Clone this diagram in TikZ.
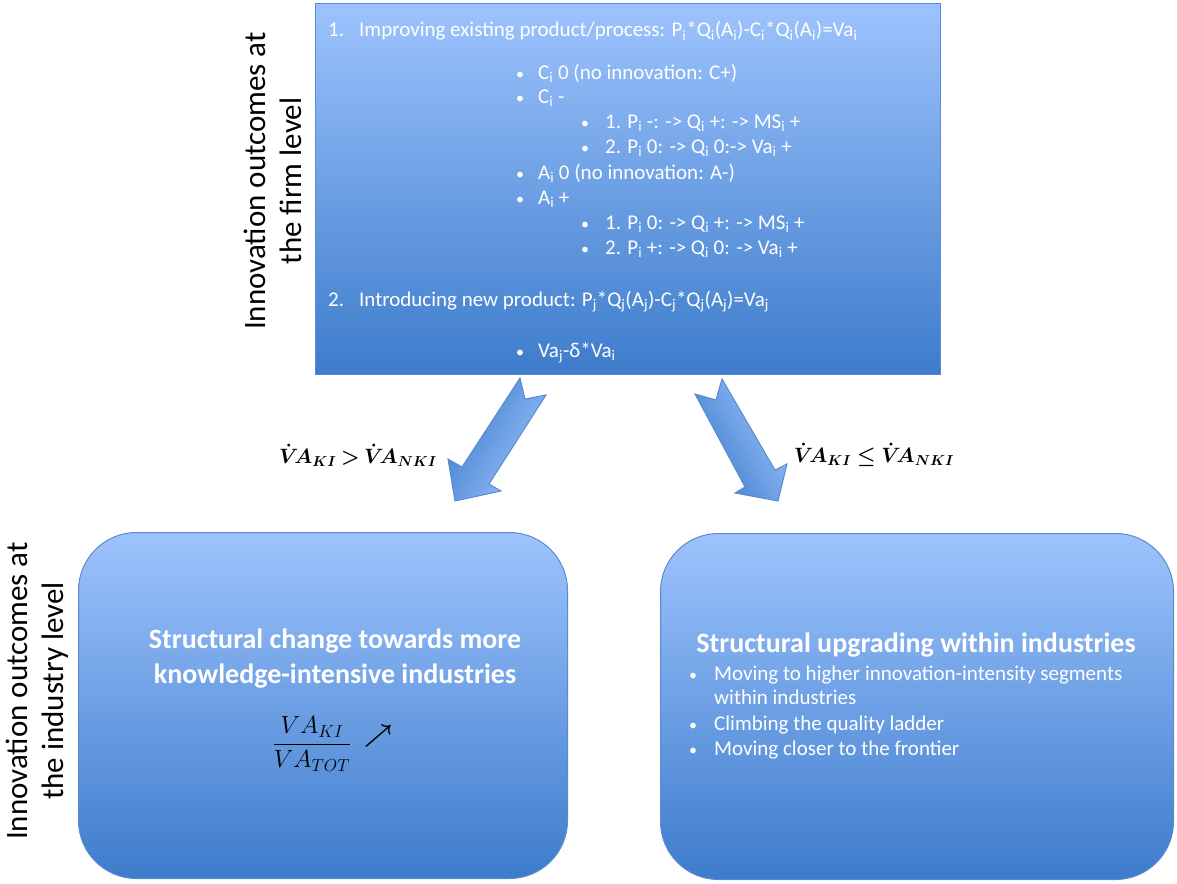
\documentclass[tikz,border=0pt]{standalone}
\usepackage{amsmath}
\usepackage{fontspec}
\setmainfont{Carlito}
\definecolor{boxtop}{HTML}{9DC3FD}
\definecolor{boxbot}{HTML}{3D7CCB}
\definecolor{boxline}{HTML}{5A8BCF}
\newcommand{\sbi}{\textsubscript{i}}
\newcommand{\sbj}{\textsubscript{j}}
\newcommand{\condA}{$\boldsymbol{\dot{V}\!A_{KI}}\mathbin{\boldsymbol{>}}\boldsymbol{\dot{V}\!A_{NKI}}$}
\newcommand{\condB}{$\boldsymbol{\dot{V}\!A_{KI}}\mathrel{\boldsymbol{\leq}}\boldsymbol{\dot{V}\!A_{NKI}}$}
\newcommand{\kifrac}{$\displaystyle\frac{VA_{KI}}{VA_{TOT}}$}
\newcommand{\uparr}{$\boldsymbol{\nearrow}$}
\begin{document}
\begin{tikzpicture}[x=1pt,y=-1pt,
  box/.style={draw=boxline, line width=1pt, top color=boxtop, bottom color=boxbot, inner sep=0pt},
  wt/.style={anchor=base west, inner sep=0pt, text=white, font=\fontsize{21}{25}\selectfont},
  bul/.style={anchor=base, inner sep=0pt, text=white, font=\fontsize{16}{25}\selectfont},
  ttl/.style={anchor=base, inner sep=0pt, text=white, font=\bfseries\fontsize{28}{32}\selectfont},
  side/.style={rotate=90, inner sep=0pt, align=center, font=\fontsize{31}{36}\selectfont},
  mth/.style={inner sep=0pt, font=\fontsize{20}{24}\selectfont},
  blk/.style={draw=boxline, line width=1pt, left color=boxbot, right color=boxtop}]
\useasboundingbox (0,0) rectangle (1177,883);

% top box
\node[box, minimum width=625pt, minimum height=371pt, anchor=north west] (firm) at (315,3) {};
\node[wt] (n1) at (328,37) {1.};
\node[wt] (t1) at (359,37) {Improving existing product/process: P\sbi*Q\sbi(A\sbi)-C\sbi*Q\sbi(A\sbi)=Va\sbi};
\node[bul] (b1) at (520,79) {•};  \node[wt] (t2) at (538,79) {C\sbi\ 0 (no innovation: C+)};
\node[bul] (b2) at (520,103) {•}; \node[wt] (t3) at (538,103) {C\sbi\ -};
\node[bul] (b3) at (585,128) {•}; \node[wt] (t4) at (605,128) {1. P\sbi\ -: -> Q\sbi\ +: -> MS\sbi\ +};
\node[bul] (b4) at (585,153) {•}; \node[wt] (t5) at (605,153) {2. P\sbi\ 0: -> Q\sbi\ 0:-> Va\sbi\ +};
\node[bul] (b5) at (520,179) {•}; \node[wt] (t6) at (538,179) {A\sbi\ 0 (no innovation: A-)};
\node[bul] (b6) at (520,204) {•}; \node[wt] (t7) at (538,204) {A\sbi\ +};
\node[bul] (b7) at (585,229) {•}; \node[wt] (t8) at (605,229) {1. P\sbi\ 0: -> Q\sbi\ +: -> MS\sbi\ +};
\node[bul] (b8) at (585,254) {•}; \node[wt] (t9) at (605,254) {2. P\sbi\ +: -> Q\sbi\ 0: -> Va\sbi\ +};
\node[wt] (n2) at (328,306) {2.};
\node[wt] (t10) at (359,306) {Introducing new product: P\sbj*Q\sbj(A\sbj)-C\sbj*Q\sbj(A\sbj)=Va\sbj};
\node[bul] (b9) at (520,357) {•}; \node[wt] (t11) at (538,357) {Va\sbj-δ*Va\sbi};

% side labels
\node[side] (lab1) at (273,181) {Innovation outcomes at\\the firm level};
\node[side] (lab2) at (37,691) {Innovation outcomes at\\the industry level};

% block arrows
\path[blk, shading angle=60] (520,378) -- (525,399) -- (546,395) -- (489,484) -- (501,491) -- (455,501) -- (448,459) -- (462,467) -- cycle;
\path[blk, shading angle=120] (722,379) -- (775,470) -- (787,464) -- (778,501) -- (735,493) -- (745,487) -- (695,394) -- (716,400) -- cycle;

\node[mth] (c1) at (358,455) {\condA};
\node[mth] (c2) at (874,455) {\condB};

% bottom boxes
\node[box, rounded corners=58pt, minimum width=489pt, minimum height=346pt, anchor=north west] (ki) at (78,532) {};
\node[box, rounded corners=58pt, minimum width=513pt, minimum height=346pt, anchor=north west] (up) at (660,533) {};

\node[ttl] (k1) at (335,648) {Structural change towards more};
\node[ttl] (k2) at (335,683) {knowledge-intensive industries};
\node[mth, font=\fontsize{26}{30}\selectfont] (fr) at (312,744) {\kifrac};
\node[mth, font=\fontsize{26}{30}\selectfont, anchor=west] (ar) at (364,736) {\uparr};

\node[ttl] (u1) at (916,652) {Structural upgrading within industries};
\node[bul] (ub1) at (693,680) {•}; \node[wt] (u2) at (714,680) {Moving to higher innovation-intensity segments};
\node[wt] (u3) at (714,704) {within industries};
\node[bul] (ub2) at (693,730) {•}; \node[wt] (u4) at (714,730) {Climbing the quality ladder};
\node[bul] (ub3) at (693,755) {•}; \node[wt] (u5) at (714,755) {Moving closer to the frontier};
\end{tikzpicture}
\end{document}
